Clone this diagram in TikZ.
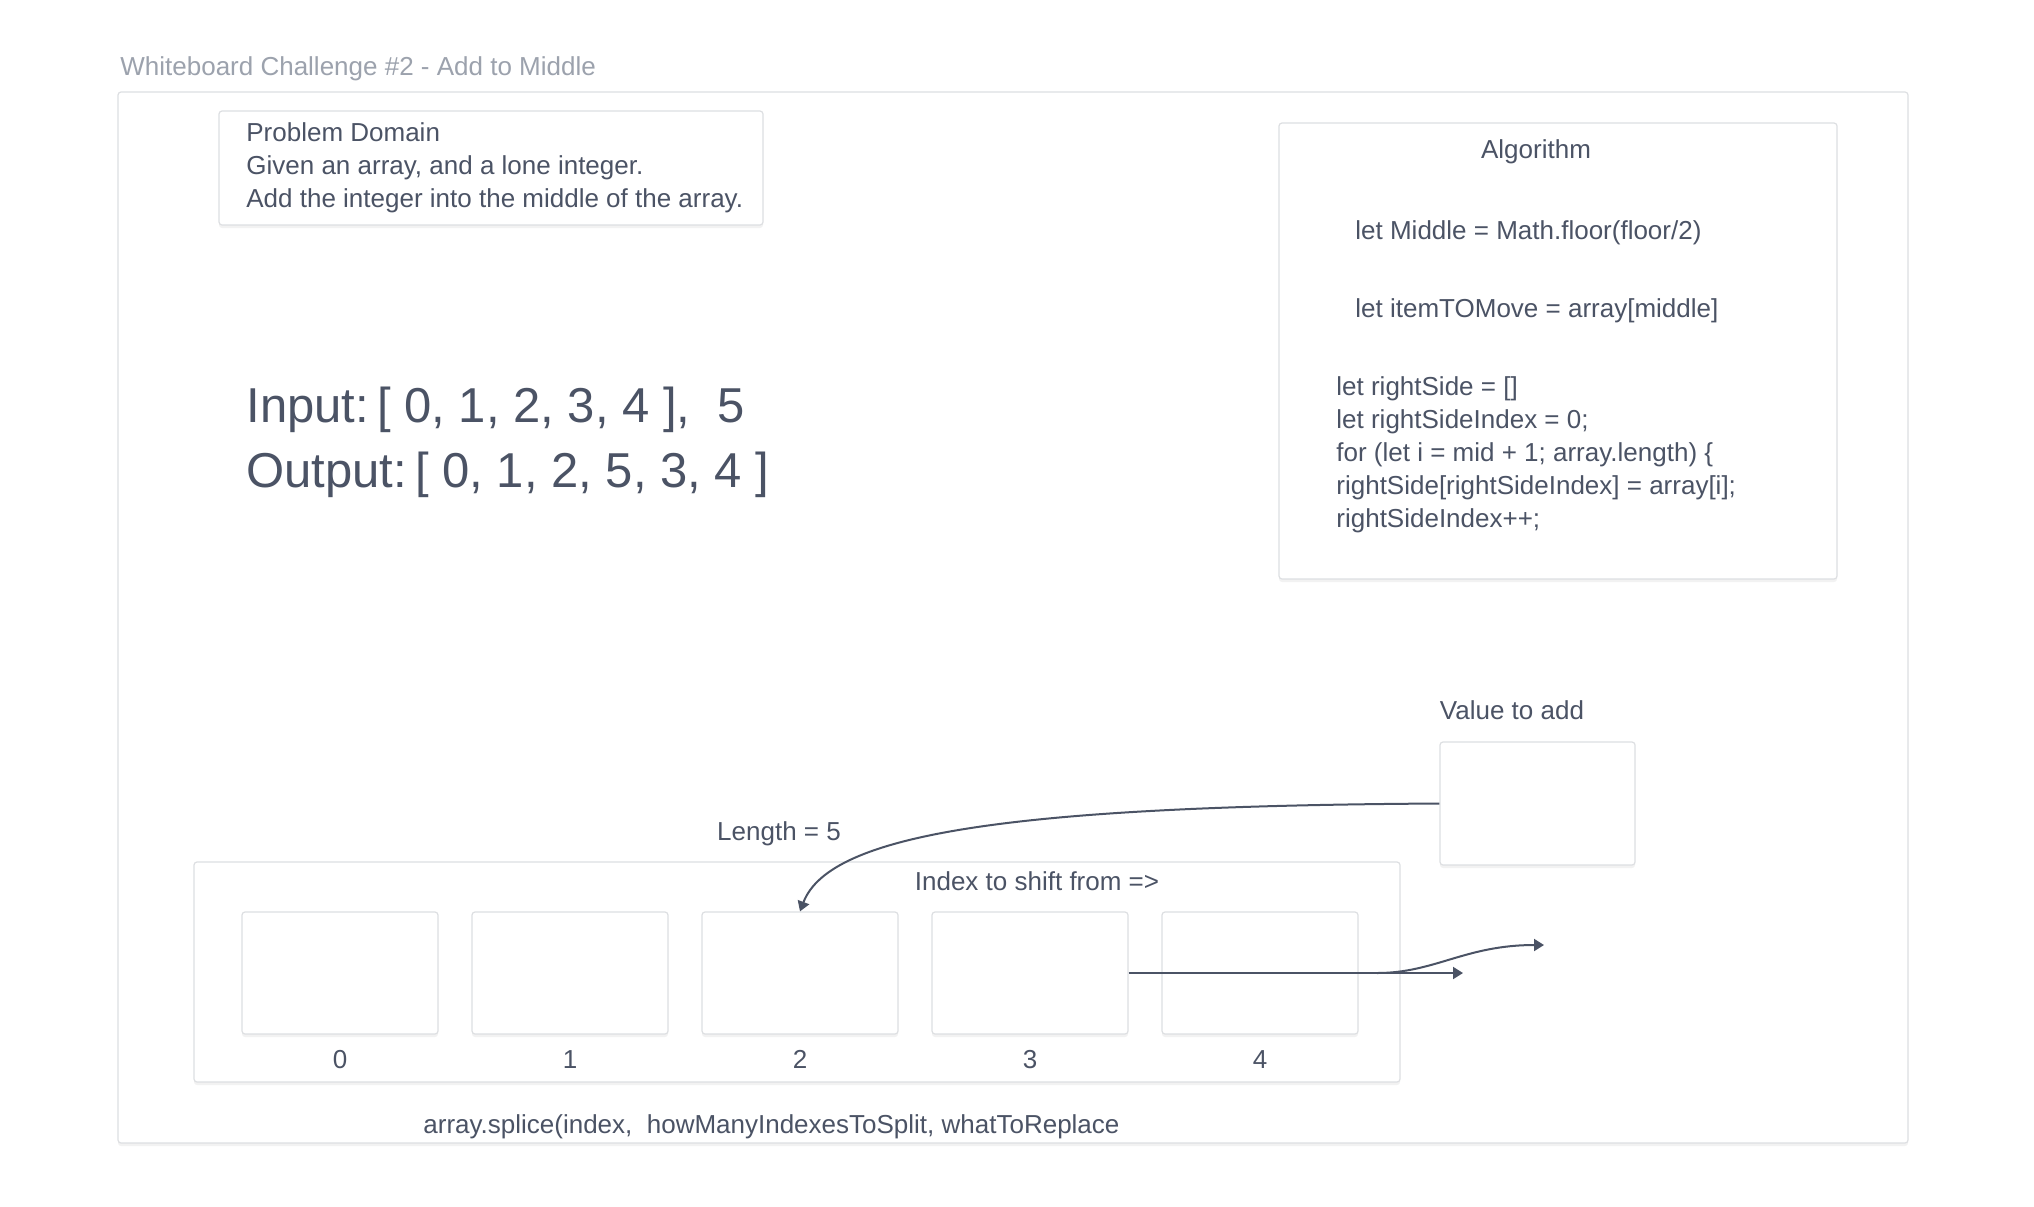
\documentclass[tikz,border=0pt]{standalone}
\usepackage{fontspec}
\setmainfont{Liberation Sans}
\usetikzlibrary{fit,shadows,arrows.meta}
\definecolor{ink}{HTML}{4B5365}
\definecolor{titlegray}{HTML}{9CA2AD}
\definecolor{edge}{HTML}{DDDFE2}
\begin{document}
\begin{tikzpicture}[x=0.5pt,y=-0.5pt,
  box/.style={draw=edge, line width=0.6pt, fill=white, rounded corners=1.5pt, inner sep=0pt,
    drop shadow={opacity=0.10, shadow xshift=0pt, shadow yshift=-1.5pt}},
  txt/.style={font=\fontsize{13}{16}\selectfont, text=ink, inner sep=0pt},
  big/.style={font=\fontsize{24.5}{28}\selectfont, text=ink, inner sep=0pt},
  arr/.style={draw=ink, line width=1pt, -{Triangle[length=5pt,width=6pt]}},
]
\fill[white] (0,0) rectangle (2034,1206);
\useasboundingbox (0,0) rectangle (2034,1206);

% outer frame and title
\node[box, fit={(118,92) (1908,1143)}] (frame) {};
\node[txt, text=titlegray, anchor=base west] (title) at (120,75) {Whiteboard Challenge \#2 - Add to Middle};

% problem domain
\node[box, fit={(219,111) (763,225)}] (pd) {};
\node[txt, anchor=base west] (pd1) at (246,141) {Problem Domain};
\node[txt, anchor=base west] (pd2) at (246,174) {Given an array, and a lone integer.};
\node[txt, anchor=base west] (pd3) at (246,207) {Add the integer into the middle of the array.};

% input / output
\node[big, anchor=base west] (inp) at (246,422) {Input:\,[ 0, 1, 2, 3, 4 ],\ \ 5};
\node[big, anchor=base west] (outp) at (246,487) {Output:\,[ 0, 1, 2, 5, 3, 4 ]};

% algorithm
\node[box, fit={(1279,123) (1837,579)}] (alg) {};
\node[txt, anchor=base] (algt) at (1536,158) {Algorithm};
\node[txt, anchor=base west] (a1) at (1355,239) {let Middle = Math.floor(floor/2)};
\node[txt, anchor=base west] (a2) at (1355,317) {let itemTOMove = array[middle]};
\node[txt, anchor=base west] (a3) at (1336,395) {let rightSide = []};
\node[txt, anchor=base west] (a4) at (1336,428) {let rightSideIndex = 0;};
\node[txt, anchor=base west] (a5) at (1336,461) {for (let i = mid + 1; array.length) \{};
\node[txt, anchor=base west] (a6) at (1336,494) {rightSide[rightSideIndex] = array[i];};
\node[txt, anchor=base west] (a7) at (1336,527) {rightSideIndex++;};

% value to add
\node[txt, anchor=base] (valt) at (1512,719) {Value to add};
\node[box, fit={(1440,742) (1635,865)}] (val) {};

% array container
\node[txt, anchor=base] (len) at (779,840) {Length = 5};
\node[box, fit={(194,862) (1400,1082)}] (cont) {};
\node[txt, anchor=base] (idx) at (1037,890) {Index to shift from =>};

\node[box, fit={(242,912) (438,1034)}] (c0) {};
\node[box, fit={(472,912) (668,1034)}] (c1) {};
\node[box, fit={(702,912) (898,1034)}] (c2) {};
\node[box, fit={(932,912) (1128,1034)}] (c3) {};
\node[box, fit={(1162,912) (1358,1034)}] (c4) {};
\node[txt, anchor=base] (l0) at (340,1068) {0};
\node[txt, anchor=base] (l1) at (570,1068) {1};
\node[txt, anchor=base] (l2) at (800,1068) {2};
\node[txt, anchor=base] (l3) at (1030,1068) {3};
\node[txt, anchor=base] (l4) at (1260,1068) {4};

\node[txt, anchor=base west] (splice) at (423,1133) {array.splice(index,\ \ howManyIndexesToSplit, whatToReplace};

% connectors
\coordinate (e1) at (1463,973);
\coordinate (br) at (1377,973);
\coordinate (e2) at (1544,945);
\draw[arr] (val.west) .. controls (1020,806) and (830,832) .. (c2.north);
\draw[arr] (c3.east) -- (e1);
\draw[arr] (br) .. controls (1435,973) and (1465,945) .. (e2);
\end{tikzpicture}
\end{document}
